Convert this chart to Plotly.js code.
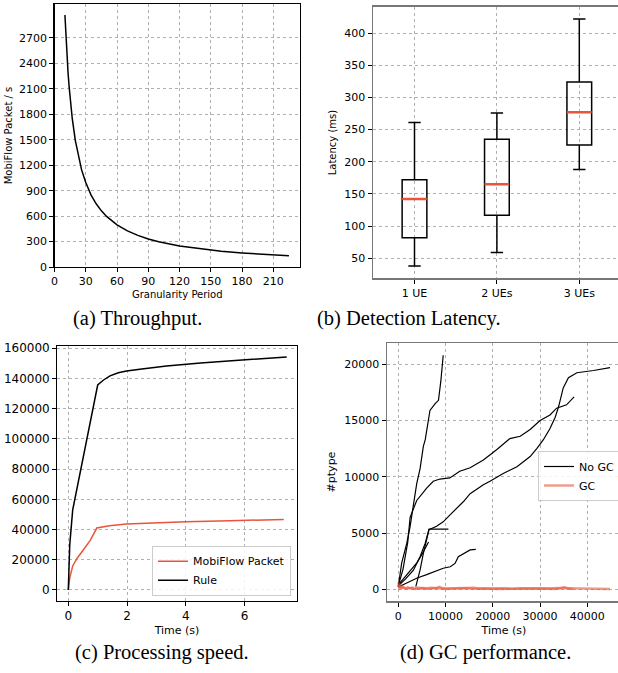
<!DOCTYPE html>
<html>
<head>
<meta charset="utf-8">
<script src="https://cdn.plot.ly/plotly-3.0.1.min.js"></script>
<style>
html, body { margin: 0; padding: 0; overflow: hidden; background: #ffffff; }
#chart { width: 622px; height: 673px; }
</style>
</head>
<body>
<div id="chart"></div>
<script>
// ---------- (a) Throughput ----------
const granularity = [10, 11, 12, 13, 14, 15, 17, 20, 23, 26, 30, 35, 40, 45, 50, 60, 70, 80, 90, 100, 120, 140, 160, 180, 200, 225];
const throughput  = [2970, 2700, 2480, 2290, 2130, 1990, 1755, 1490, 1295, 1145, 995, 850, 745, 662, 596, 497, 426, 373, 331, 298, 248, 213, 186, 166, 149, 132];

// ---------- (b) Detection latency ----------
const ueLabels   = ['1 UE', '2 UEs', '3 UEs'];
const uePos      = [1, 2, 3];
const latLow     = [38, 59, 188];
const latQ1      = [82, 117, 226];
const latMedian  = [142, 165, 277];
const latQ3      = [172, 235, 324];
const latHigh    = [261, 276, 422];

// ---------- (c) Processing speed ----------
const ruleTime   = [0, 0.05, 0.15, 0.3, 0.45, 0.62, 0.79, 0.9, 1.0, 1.2, 1.42, 1.7, 1.98, 2.5, 3.34, 4.5, 6.0, 7.43];
const ruleCount  = [0, 30000, 53000, 68000, 81000, 99300, 114800, 126000, 135700, 139000, 141700, 143800, 145000, 146300, 148300, 150200, 152300, 154300];
const pktTime    = [0, 0.05, 0.15, 0.3, 0.51, 0.75, 0.97, 1.4, 1.98, 3.0, 4.0, 5.5, 7.33];
const pktCount   = [0, 8000, 15900, 21000, 26500, 33000, 41000, 42500, 43700, 44600, 45200, 45900, 46600];

// ---------- (d) GC performance ----------
const noGc1X = [0, 700, 1800, 2500, 3200, 3900, 4600, 5300, 5700, 6700, 7800, 8500, 9000, 9500];
const noGc1Y = [250, 2300, 4100, 5600, 7500, 9400, 10700, 12700, 13300, 15900, 16500, 16800, 18500, 20800];
const noGc2X = [0, 1000, 2000, 2500, 3900, 6000, 7400, 8800, 10900, 13000, 15200, 18000, 20800, 23600, 25800, 27900, 30000, 32100, 33500, 35600, 37200];
const noGc2Y = [300, 1800, 4200, 6400, 7900, 9000, 9600, 9800, 9900, 10500, 10800, 11500, 12400, 13400, 13600, 14200, 15000, 15500, 16100, 16400, 17100];
const noGc3X = [3700, 4600, 5300, 6000, 6500, 8100, 9500, 10900, 12400, 13800, 15200, 16600, 18000, 19400, 22200, 25100, 27900, 29300, 30700, 32100, 33200, 33900, 34900, 36000, 37800, 41300, 44800];
const noGc3Y = [230, 1700, 3200, 4500, 5300, 5600, 6000, 6600, 7200, 7800, 8500, 8900, 9300, 9600, 10300, 10900, 11800, 12500, 13300, 14300, 15300, 16200, 17900, 18800, 19250, 19450, 19700];
const noGc4X = [0, 1500, 3200, 4600, 5700, 6500, 10600];
const noGc4Y = [300, 900, 1700, 2900, 4100, 5350, 5350];
const noGc5X = [0, 1000, 2500, 4000, 5000, 6400];
const noGc5Y = [400, 900, 1600, 2400, 3100, 4200];
const noGc6X = [0, 2000, 4000, 6000, 8000, 9500, 11000, 12000, 12700, 13800, 15200, 16400];
const noGc6Y = [200, 600, 1000, 1300, 1600, 1870, 2000, 2300, 2900, 3150, 3500, 3550];
const gc1X = [0, 200, 400, 700, 1000, 1500, 2000, 2500, 3000, 3500, 4000, 5000, 6000, 7000, 8000, 8700, 9200, 10000, 11000, 12000, 13000, 14000, 15000, 16000, 17000, 18000, 19000, 20000, 22000, 24000, 26000, 28000, 30000, 32000, 34000, 35200, 36000, 38000, 40000, 42000, 44000, 44800];
const gc1Y = [620, 100, 450, 80, 250, 60, 180, 90, 160, 50, 140, 120, 100, 150, 90, 230, 120, 80, 100, 70, 110, 160, 140, 150, 70, 90, 60, 80, 100, 60, 90, 70, 100, 80, 110, 190, 90, 70, 80, 60, 70, 30];
const gc2X = [0, 300, 800, 1500, 2500, 3500, 5000, 6500, 8000, 10000, 12000, 14000, 16000, 18000, 21000, 24000, 27000, 30000, 33000, 35000, 37000];
const gc2Y = [400, 60, 200, 40, 120, 30, 90, 40, 110, 30, 60, 100, 40, 70, 30, 60, 40, 70, 30, 120, 20];

const W = 622, H = 673;
const ORANGE = '#e8553a';
const fx = (px) => px / W;
const fy = (py) => 1 - py / H;

const gridBase = {gridcolor: '#b0b0b0', griddash: 'dot', gridwidth: 1, zeroline: false,
  showline: true, mirror: true, ticks: 'outside', ticklen: 4, tickwidth: 1, tickcolor: '#000',
  tickfont: {size: 11, color: '#000'}};

const traces = [];
// (a)
traces.push({x: granularity, y: throughput, type: 'scatter', mode: 'lines', line: {color: '#000', width: 1.5},
  xaxis: 'x', yaxis: 'y', showlegend: false});
// (b) boxes
traces.push({type: 'box', x: uePos, q1: latQ1, median: latMedian, q3: latQ3, lowerfence: latLow, upperfence: latHigh,
  width: 0.3, whiskerwidth: 0.5, fillcolor: 'rgba(0,0,0,0)', line: {color: '#000', width: 1.5},
  xaxis: 'x2', yaxis: 'y2', showlegend: false, hoverinfo: 'skip'});
const medX = [], medY = [];
uePos.forEach((p, i) => { medX.push(p - 0.15, p + 0.15, null); medY.push(latMedian[i], latMedian[i], null); });
traces.push({x: medX, y: medY, type: 'scatter', mode: 'lines', line: {color: ORANGE, width: 2.5},
  xaxis: 'x2', yaxis: 'y2', showlegend: false});
// (c)
traces.push({x: pktTime, y: pktCount, name: 'MobiFlow Packet', type: 'scatter', mode: 'lines',
  line: {color: ORANGE, width: 1.5}, xaxis: 'x3', yaxis: 'y3', legend: 'legend'});
traces.push({x: ruleTime, y: ruleCount, name: 'Rule', type: 'scatter', mode: 'lines',
  line: {color: '#000', width: 1.5}, xaxis: 'x3', yaxis: 'y3', legend: 'legend'});
// (d)
const noGc = [[noGc1X, noGc1Y], [noGc2X, noGc2Y], [noGc3X, noGc3Y], [noGc4X, noGc4Y], [noGc5X, noGc5Y], [noGc6X, noGc6Y]];
noGc.forEach((s, i) => traces.push({x: s[0], y: s[1], name: 'No GC', type: 'scatter', mode: 'lines',
  line: {color: '#000', width: 1.2}, xaxis: 'x4', yaxis: 'y4', legend: 'legend2', legendgroup: 'nogc', showlegend: i === 0}));
[[gc1X, gc1Y], [gc2X, gc2Y]].forEach((s, i) => traces.push({x: s[0], y: s[1], name: 'GC', type: 'scatter', mode: 'lines',
  line: {color: ORANGE, width: 2.4}, opacity: 0.6, xaxis: 'x4', yaxis: 'y4', legend: 'legend2', legendgroup: 'gc', showlegend: i === 0}));

const cap = (text, x, y) => ({text: text, x: fx(x), y: fy(y), xref: 'paper', yref: 'paper', showarrow: false,
  xanchor: 'center', yanchor: 'middle', font: {family: 'Liberation Serif, Times New Roman, serif', size: 20.5, color: '#000'}});

const layout = {
  width: W, height: H, margin: {l: 0, r: 0, t: 0, b: 0}, paper_bgcolor: '#fff', plot_bgcolor: '#fff',
  font: {family: 'DejaVu Sans, sans-serif', color: '#000'},
  showlegend: true,
  xaxis: Object.assign({}, gridBase, {domain: [fx(54.5), fx(300)], range: [0, 235.6], tickvals: [0, 30, 60, 90, 120, 150, 180, 210],
    linecolor: '#000', linewidth: 1.2, anchor: 'y',
    title: {text: 'Granularity Period', font: {size: 10}, standoff: 3}}),
  yaxis: Object.assign({}, gridBase, {domain: [fy(267), fy(4)], range: [0, 3100], tickvals: [0, 300, 600, 900, 1200, 1500, 1800, 2100, 2400, 2700],
    linecolor: '#000', linewidth: 1.2, anchor: 'x',
    title: {text: 'MobiFlow Packet / s', font: {size: 10}, standoff: 4}}),
  xaxis2: Object.assign({}, gridBase, {domain: [fx(373.3), fx(620.5)], range: [0.5, 3.5], tickvals: uePos, ticktext: ueLabels,
    linecolor: '#777', linewidth: 1.8, anchor: 'y2'}),
  yaxis2: Object.assign({}, gridBase, {domain: [fy(278.3), fy(6.7)], range: [18.8, 441.2], tickvals: [50, 100, 150, 200, 250, 300, 350, 400],
    linecolor: '#777', linewidth: 1.8, anchor: 'x2',
    title: {text: 'Latency (ms)', font: {size: 10}, standoff: 6}}),
  xaxis3: Object.assign({}, gridBase, {domain: [fx(57.3), fx(296.7)], range: [-0.374, 7.77], tickvals: [0, 2, 4, 6],
    tickfont: {size: 12}, linecolor: '#000', linewidth: 1.2, anchor: 'y3',
    title: {text: 'Time (s)', font: {size: 11}, standoff: 4}}),
  yaxis3: Object.assign({}, gridBase, {domain: [fy(600.7), fy(345.7)], range: [-7100, 161700],
    tickvals: [0, 20000, 40000, 60000, 80000, 100000, 120000, 140000, 160000], tickformat: 'd',
    tickfont: {size: 12}, linecolor: '#000', linewidth: 1.2, anchor: 'x3'}),
  xaxis4: Object.assign({}, gridBase, {domain: [fx(387.3), fx(620.6)], range: [-2328, 47040], tickvals: [0, 10000, 20000, 30000, 40000], tickformat: 'd',
    linecolor: '#777', linewidth: 1.8, anchor: 'y4',
    title: {text: 'Time (s)', font: {size: 11}, standoff: 4}}),
  yaxis4: Object.assign({}, gridBase, {domain: [fy(600.7), fy(343.3)], range: [-1013, 21867], tickvals: [0, 5000, 10000, 15000, 20000], tickformat: 'd',
    linecolor: '#777', linewidth: 1.8, anchor: 'x4',
    title: {text: '#ptype', font: {size: 11}, standoff: 6}}),
  legend: {x: fx(291), xanchor: 'right', y: fy(595.7), yanchor: 'bottom', xref: 'paper', yref: 'paper',
    bgcolor: 'rgba(255,255,255,0.85)', bordercolor: '#cccccc', borderwidth: 1, font: {size: 11}, itemwidth: 30, tracegroupgap: 0},
  legend2: {x: fx(538), xanchor: 'left', y: fy(451), yanchor: 'top', xref: 'paper', yref: 'paper',
    bgcolor: 'rgba(255,255,255,0.85)', bordercolor: '#cccccc', borderwidth: 1, font: {size: 11}, itemwidth: 30, tracegroupgap: 0},
  annotations: [
    cap('(a) Throughput.', 137, 318),
    cap('(b) Detection Latency.', 409, 318),
    cap('(c) Processing speed.', 162, 652),
    cap('(d) GC performance.', 485, 652)
  ]
};

Plotly.newPlot('chart', traces, layout, {displayModeBar: false, staticPlot: true});
</script>
</body>
</html>
